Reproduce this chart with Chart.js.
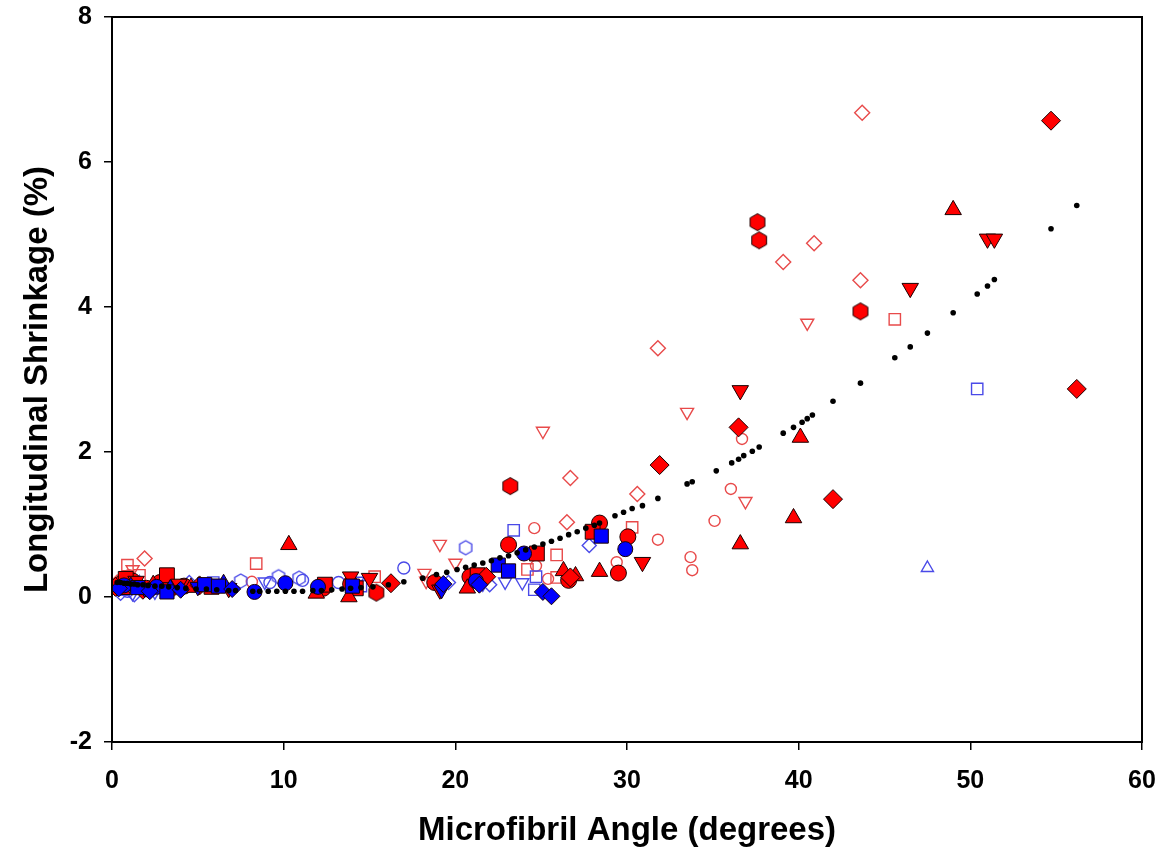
<!DOCTYPE html>
<html lang="en">
<head>
    <meta charset="UTF-8">
    <title>Longitudinal Shrinkage vs Microfibril Angle</title>
    <script src="https://cdn.jsdelivr.net/npm/chart.js"></script>
    <style>
        body { margin: 0; background: #fff; overflow: hidden; }
        #wrap { width: 1162px; height: 855px; }
    </style>
</head>
<body>
    <div id="wrap"><canvas id="grafico"></canvas></div>

    <script>
        // axis ticks
        const xTicks = [0, 10, 20, 30, 40, 50, 60];
        const yTicks = [-2, 0, 2, 4, 6, 8];

        // fitted curve (black dots), [angle, shrinkage]
        const fitCurve = [[0.3,0.2],[0.5,0.2],[0.7,0.19],[0.9,0.19],[1.1,0.18],[1.3,0.18],[1.5,0.17],[1.8,0.17],
            [2.1,0.16],[2.5,0.15],[2.9,0.15],[3.3,0.14],[3.8,0.13],[4.3,0.12],[4.9,0.11],[5.5,0.11],[6.1,0.1],
            [6.8,0.09],[7.2,0.09],[8.2,0.08],[8.6,0.08],[9.1,0.08],[9.6,0.08],[10.1,0.08],[10.6,0.08],[11.1,0.08],
            [11.7,0.09],[12.2,0.09],[12.8,0.1],[13.4,0.11],[13.9,0.12],[14.5,0.13],[15.2,0.14],[16.1,0.17],
            [17.0,0.21],[18.1,0.26],[18.9,0.31],[19.5,0.34],[20.1,0.38],[20.6,0.41],[21.1,0.44],[21.6,0.47],
            [22.1,0.5],[22.6,0.54],[23.1,0.57],[23.6,0.61],[24.1,0.65],[24.6,0.69],[25.1,0.73],[25.6,0.77],
            [26.1,0.81],[26.6,0.86],[27.1,0.9],[27.6,0.95],[28.1,0.99],[28.4,1.02],[29.3,1.12],[29.8,1.17],
            [30.3,1.22],[30.9,1.26],[31.8,1.36],[33.5,1.56],[33.8,1.59],[35.2,1.74],[36.1,1.85],[36.5,1.9],
            [36.8,1.95],[37.3,2.01],[37.7,2.07],[39.1,2.26],[39.7,2.34],[40.2,2.41],[40.5,2.46],[40.8,2.51],
            [42.0,2.7],[43.6,2.95],[45.6,3.3],[46.5,3.45],[47.5,3.64],[49.0,3.92],[50.4,4.18],[51.0,4.29],
            [51.4,4.38],[54.7,5.08],[56.2,5.4]];

        // red, filled markers
        const redHexagon = [[23.2,1.53],[37.6,5.17],[37.7,4.92],[43.6,3.94],[15.4,0.06],[0.3,0.15],[1.0,0.2],[3.5,0.12],[21.0,0.3]];
        const redCircle = [[29.5,0.33],[30.05,0.83],[23.1,0.72],[26.6,0.23],[28.4,1.02],[20.85,0.28],[18.8,0.2],
            [0.5,0.18],[1.2,0.22],[2.0,0.12],[2.8,0.2],[4.2,0.15],[12.3,0.12],[13.9,0.18]];
        const redSquare = [[28.0,0.9],[24.75,0.6],[3.2,0.3],[0.8,0.25],[5.8,0.14],[12.4,0.17],[14.2,0.12],[21.3,0.3]];
        const redTriUp = [[10.3,0.72],[49.0,5.34],[40.1,2.2],[39.7,1.09],[36.6,0.73],[28.4,0.35],[26.3,0.36],[27.0,0.29],
            [20.7,0.12],[13.8,0.0],[11.9,0.05],[0.6,0.1],[2.4,0.17],[4.6,0.13]];
        const redTriDown = [[36.6,2.85],[46.5,4.26],[51.0,4.94],[51.4,4.94],[30.9,0.48],[13.9,0.28],[15.0,0.26],
            [19.1,0.1],[1.4,0.22],[3.9,0.18],[6.8,0.12]];
        const redDiamond = [[54.7,6.57],[56.2,2.87],[42.0,1.35],[36.5,2.34],[31.9,1.82],[26.7,0.27],[16.25,0.19],
            [0.2,0.14],[1.8,0.1],[5.1,0.16],[21.8,0.28]];

        // red, open markers
        const redOpenDiamond = [[43.7,6.68],[40.9,4.88],[39.1,4.62],[43.6,4.37],[31.8,3.43],[26.7,1.64],[30.6,1.42],
            [26.5,1.03],[1.9,0.53],[0.3,0.2]];
        const redOpenCircle = [[36.7,2.18],[36.05,1.49],[35.1,1.05],[31.8,0.79],[33.7,0.55],[33.8,0.37],[29.4,0.48],
            [24.6,0.95],[24.7,0.43],[25.4,0.25],[8.15,0.21],[18.8,0.2],[1.0,0.3]];
        const redOpenSquare = [[45.6,3.83],[30.3,0.96],[25.9,0.58],[24.2,0.38],[25.9,0.27],[8.4,0.46],[0.9,0.44],
            [15.3,0.28],[1.6,0.3]];
        const redOpenTriDown = [[25.1,2.29],[33.5,2.55],[40.5,3.78],[36.9,1.32],[19.1,0.73],[20.0,0.47],[18.2,0.33],
            [1.2,0.38],[18.3,0.22]];

        // blue, filled markers
        const blueCircle = [[0.7,0.16],[2.6,0.14],[8.3,0.07],[10.1,0.19],[12.0,0.14],[24.0,0.6],[29.9,0.66],[21.2,0.22]];
        const blueSquare = [[3.2,0.07],[5.4,0.17],[6.2,0.15],[1.5,0.13],[22.5,0.44],[23.1,0.36],[28.5,0.84],[14.0,0.15]];
        const blueDiamond = [[0.4,0.12],[2.2,0.08],[7.0,0.11],[4.0,0.1],[21.4,0.17],[25.1,0.07],[25.6,0.01],[19.3,0.18]];
        const blueTriUp = [[6.5,0.19],[1.1,0.15],[3.4,0.12]];
        const blueTriDown = [[19.2,0.1],[1.9,0.12],[5.0,0.14]];

        // blue, open markers
        const blueOpenCircle = [[11.1,0.23],[17.0,0.4],[9.2,0.2],[0.9,0.08],[2.3,0.1],[13.2,0.2]];
        const blueOpenSquare = [[50.4,2.87],[23.4,0.92],[24.6,0.1],[24.7,0.28],[0.6,0.1],[14.5,0.15],[5.9,0.2]];
        const blueOpenTriUp = [[47.5,0.4],[1.6,0.2]];
        const blueOpenTriDown = [[22.9,0.21],[23.9,0.2],[8.9,0.21],[1.2,0.05],[2.5,0.07],[14.3,0.22],[21.6,0.18]];
        const blueOpenDiamond = [[27.8,0.71],[22.0,0.17],[0.5,0.05],[1.3,0.03],[2.0,0.1],[4.5,0.2],[19.6,0.2]];
        const blueOpenHexagon = [[20.6,0.68],[9.7,0.28],[10.9,0.26],[3.0,0.22],[7.5,0.22]];

        const RED = '#ff0000', BLUE = '#0000ff', EDGE = '#1a0000';
        const RED_OPEN = '#e84a4a', BLUE_OPEN = '#4a4ae8';

        const pts = arr => arr.map(p => ({ x: p[0], y: p[1] }));

        // chart.js has no hexagon, so draw one on a small canvas
        function hexagon(r, fill, stroke, lw) {
            const c = document.createElement('canvas');
            const s = Math.ceil(2 * r + lw + 2);
            c.width = s; c.height = s;
            const g = c.getContext('2d');
            g.beginPath();
            for (let i = 0; i < 6; i++) {
                const a = Math.PI / 3 * i + Math.PI / 6;
                g.lineTo(s / 2 + r * Math.cos(a), s / 2 + r * Math.sin(a));
            }
            g.closePath();
            if (fill) { g.fillStyle = fill; g.fill(); }
            g.lineWidth = lw; g.strokeStyle = stroke; g.stroke();
            return c;
        }

        function filled(data, style, color, radius, rot) {
            return { data: pts(data), pointStyle: style, pointRadius: radius, pointRotation: rot || 0,
                backgroundColor: color, borderColor: EDGE, borderWidth: 1, pointHoverRadius: radius };
        }
        function open(data, style, color, radius, rot) {
            return { data: pts(data), pointStyle: style, pointRadius: radius, pointRotation: rot || 0,
                backgroundColor: 'rgba(0,0,0,0)', borderColor: color, borderWidth: 1.4, pointHoverRadius: radius };
        }

        const datasets = [
            { data: pts(fitCurve), pointStyle: 'circle', pointRadius: 2.8, backgroundColor: '#000', borderColor: '#000', borderWidth: 0 },
            filled(blueDiamond, 'rectRot', BLUE, 8.5),
            filled(blueSquare, 'rect', BLUE, 10),
            filled(blueCircle, 'circle', BLUE, 7.5),
            filled(blueTriUp, 'triangle', BLUE, 9),
            filled(blueTriDown, 'triangle', BLUE, 9, 180),
            filled(redDiamond, 'rectRot', RED, 9.5),
            filled(redTriDown, 'triangle', RED, 9.5, 180),
            filled(redTriUp, 'triangle', RED, 9.5),
            filled(redSquare, 'rect', RED, 10.5),
            filled(redCircle, 'circle', RED, 8),
            filled(redHexagon, hexagon(8.5, RED, EDGE, 1), RED, 8.5),
            open(blueOpenHexagon, hexagon(7, null, BLUE_OPEN, 1.4), BLUE_OPEN, 7),
            open(blueOpenDiamond, 'rectRot', BLUE_OPEN, 7),
            open(blueOpenTriDown, 'triangle', BLUE_OPEN, 7.5, 180),
            open(blueOpenTriUp, 'triangle', BLUE_OPEN, 7),
            open(blueOpenSquare, 'rect', BLUE_OPEN, 8),
            open(blueOpenCircle, 'circle', BLUE_OPEN, 6),
            open(redOpenTriDown, 'triangle', RED_OPEN, 7.5, 180),
            open(redOpenSquare, 'rect', RED_OPEN, 8),
            open(redOpenCircle, 'circle', RED_OPEN, 5.5),
            open(redOpenDiamond, 'rectRot', RED_OPEN, 7.5)
        ];

        // box around the plot area
        const frame = {
            id: 'frame',
            afterDraw(chart) {
                const a = chart.chartArea, g = chart.ctx;
                g.save();
                g.strokeStyle = '#000';
                g.lineWidth = 2;
                g.strokeRect(a.left, a.top, a.right - a.left, a.bottom - a.top);
                g.restore();
            }
        };

        const tickFont = { family: 'Arial, "Liberation Sans"', size: 25, weight: 'bold' };
        const titleFont = { family: 'Arial, "Liberation Sans"', size: 33, weight: 'bold' };

        new Chart(document.getElementById('grafico'), {
            type: 'scatter',
            data: { datasets: datasets },
            plugins: [frame],
            options: {
                responsive: true,
                maintainAspectRatio: false,
                animation: false,
                layout: { padding: { top: 17, right: 20, left: 14, bottom: 0 } },
                plugins: { legend: { display: false }, tooltip: { enabled: false } },
                scales: {
                    x: {
                        type: 'linear', min: 0, max: 60,
                        afterBuildTicks: s => { s.ticks = xTicks.map(v => ({ value: v })); },
                        afterFit: s => { s.height = 113; s.paddingLeft = 0; s.paddingRight = 0; },
                        grid: { drawOnChartArea: false, drawTicks: true, tickLength: 8, color: '#000', lineWidth: 1.5 },
                        border: { display: true, color: '#000', width: 2 },
                        ticks: { color: '#000', font: tickFont, padding: 16, maxRotation: 0 },
                        title: { display: true, text: 'Microfibril Angle (degrees)', color: '#000', font: titleFont, padding: { top: 10 } }
                    },
                    y: {
                        type: 'linear', min: -2, max: 8,
                        afterBuildTicks: s => { s.ticks = yTicks.map(v => ({ value: v })); },
                        afterFit: s => { s.width = 98; s.paddingTop = 0; s.paddingBottom = 0; },
                        grid: { drawOnChartArea: false, drawTicks: true, tickLength: 8, color: '#000', lineWidth: 1.5 },
                        border: { display: true, color: '#000', width: 2 },
                        ticks: { color: '#000', font: tickFont, padding: 12 },
                        title: { display: true, text: 'Longitudinal Shrinkage (%)', color: '#000', font: titleFont, padding: { bottom: 4 } }
                    }
                }
            }
        });
    </script>
</body>
</html>
